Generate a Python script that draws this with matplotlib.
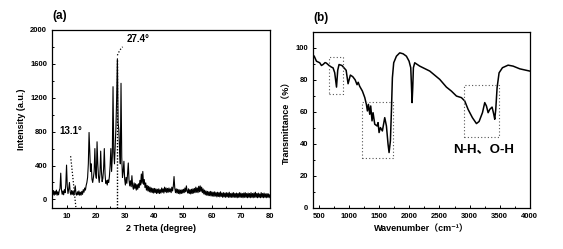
import numpy as np
import matplotlib.pyplot as plt
from matplotlib.ticker import MultipleLocator

plt.rcParams['font.family'] = ['Liberation Sans', 'Noto Sans CJK SC', 'DejaVu Sans']
plt.rcParams['font.weight'] = 'bold'

# (a) XRD pattern, 2theta grid 5..80 in 0.25 deg steps
two_theta = np.arange(5.0, 80.001, 0.25)
intensity = [
    100, 55, 105, 50, 95, 60, 110, 50, 90, 55, 105, 130, 310, 110, 60, 100, 55, 115, 80, 180,
    405, 150, 70, 125, 200, 85, 55, 105, 60, 100, 50, 95, 160, 65, 50, 90, 55, 100, 50, 85,
    50, 95, 60, 115, 85, 135, 110, 165, 200, 260, 420, 790, 560, 330, 420, 240, 200, 260, 330, 600,
    310, 250, 680, 420, 270, 200, 300, 570, 330, 210, 250, 360, 600, 300, 190, 220, 170, 230, 200, 270,
    400, 600, 330, 500, 1330, 560, 420, 620, 850, 1200, 1660, 900, 820, 600, 420, 1370, 500, 260, 330, 450,
    240, 170, 260, 190, 300, 430, 230, 160, 220, 150, 280, 160, 120, 195, 130, 185, 110, 175, 120, 185,
    140, 225, 170, 300, 190, 330, 180, 235, 140, 195, 110, 165, 100, 155, 90, 145, 85, 135, 80, 130,
    75, 130, 80, 125, 70, 120, 75, 125, 70, 115, 75, 135, 85, 125, 75, 145, 90, 135, 80, 130,
    85, 135, 90, 125, 80, 145, 100, 155, 270, 135, 80, 125, 75, 120, 70, 115, 65, 110, 70, 115,
    75, 120, 80, 135, 90, 160, 100, 75, 125, 70, 115, 65, 120, 70, 125, 75, 130, 80, 145, 85,
    135, 80, 155, 90, 160, 95, 145, 80, 125, 65, 110, 55, 100, 50, 95, 45, 90, 45, 95, 40,
    90, 40, 85, 35, 90, 40, 80, 30, 85, 35, 80, 30, 90, 35, 75, 25, 80, 30, 75, 25,
    80, 30, 75, 25, 85, 25, 70, 25, 75, 25, 80, 25, 70, 25, 75, 20, 70, 25, 80, 25,
    75, 25, 70, 20, 75, 25, 80, 25, 70, 20, 75, 25, 70, 20, 80, 25, 70, 20, 75, 25,
    85, 25, 70, 20, 75, 25, 65, 20, 80, 25, 70, 20, 75, 25, 65, 20, 70, 25, 65, 20, 55,
]

# (b) FTIR spectrum
wavenumber = [420, 456, 511, 540, 566, 600, 622, 666, 705, 733, 760, 790, 810, 832, 880, 950, 982,
              1020, 1060, 1100, 1131, 1150, 1175, 1220, 1259, 1286, 1303, 1320, 1342, 1358, 1380,
              1397, 1425, 1464, 1480, 1497, 1519, 1552, 1591, 1619, 1646, 1663, 1685, 1702, 1718,
              1740, 1785, 1840, 1896, 1951, 1995, 2023, 2034, 2045, 2056, 2067, 2089, 2172, 2339,
              2505, 2615, 2698, 2782, 2865, 2920, 2975, 3047, 3114, 3158, 3214, 3252, 3280, 3308,
              3336, 3374, 3402, 3418, 3435, 3457, 3490, 3546, 3640, 3723, 3834, 4000]
transmittance = [94.8, 91.7, 90.7, 89.0, 89.6, 90.8, 90.5, 89.0, 88.0, 87.5, 84.5, 75.5, 86.0, 89.6, 89.0, 86.0, 77.6,
                 83.0, 82.0, 80.0, 77.0, 78.5, 76.0, 73.0, 69.0, 64.7, 60.6, 64.7, 58.5, 63.7, 54.4,
                 59.5, 52.3, 51.2, 53.3, 47.1, 50.2, 48.1, 56.4, 51.2, 39.8, 34.6, 41.9, 60.6, 81.3,
                 90.7, 94.8, 96.9, 96.3, 94.8, 91.7, 87.6, 77.2, 65.8, 75.1, 87.6, 90.7, 88.6, 85.5,
                 80.3, 75.5, 73.0, 69.9, 68.9, 66.8, 61.6, 56.4, 52.7, 54.0, 59.5, 65.8, 63.7, 59.5,
                 61.6, 63.0, 58.5, 55.4, 61.6, 75.1, 84.4, 87.6, 89.2, 88.6, 86.9, 85.5]

# dotted boxes: (x0, x1, y0, y1)
boxes = [(660, 890, 71, 94), (1210, 1730, 31.5, 66), (2900, 3490, 44, 77)]

fig = plt.figure(figsize=(5.63, 2.49), dpi=100)
ax1 = fig.add_axes([0.0924, 0.165, 0.387, 0.715])
ax2 = fig.add_axes([0.556, 0.165, 0.385, 0.707])

ax1.plot(two_theta, intensity, color='black', lw=0.8)
ax1.set_xlim(5, 80)
ax1.set_ylim(-100, 2000)
ax1.xaxis.set_major_locator(MultipleLocator(10))
ax1.xaxis.set_minor_locator(MultipleLocator(5))
ax1.yaxis.set_major_locator(MultipleLocator(400))
ax1.yaxis.set_minor_locator(MultipleLocator(200))
ax1.set_xlabel('2 Theta (degree)', fontsize=6.5, fontweight='bold', labelpad=3)
ax1.set_ylabel('Intensity (a.u.)', fontsize=6.5, fontweight='bold', labelpad=3)
# peak markers
ax1.plot([27.4, 27.4], [-100, 1660], ls=(0, (1, 1.2)), color='black', lw=1.0)
ax1.plot([27.5, 28.3, 29.3], [1700, 1760, 1800], ls=(0, (1, 1.5)), color='black', lw=0.9)
ax1.plot([11.4, 12.2, 13.2], [510, 250, -90], ls=(0, (1, 1.5)), color='black', lw=0.9)
ax1.text(30.6, 1860, '27.4°', fontsize=7, fontweight='bold')
ax1.text(7.4, 770, '13.1°', fontsize=7, fontweight='bold')
ax1.text(0, 1.06, '(a)', transform=ax1.transAxes, fontsize=8.5, fontweight='bold')

ax2.plot(wavenumber, transmittance, color='black', lw=1.1)
for x0, x1, y0, y1 in boxes:
    ax2.plot([x0, x1, x1, x0, x0], [y0, y0, y1, y1, y0], ls=(0, (1, 2)), color='#555555', lw=0.8)
ax2.set_xlim(400, 4000)
ax2.set_ylim(0, 110)
ax2.xaxis.set_major_locator(MultipleLocator(500))
ax2.xaxis.set_minor_locator(MultipleLocator(250))
ax2.yaxis.set_major_locator(MultipleLocator(20))
ax2.yaxis.set_minor_locator(MultipleLocator(10))
ax2.set_xlabel('Wavenumber（cm⁻¹）', fontsize=6.5, fontweight='bold', labelpad=3)
ax2.set_ylabel('Transmittance（%）', fontsize=6.5, fontweight='bold', labelpad=3)
ax2.text(3230, 36.7, 'N-H、O-H', fontsize=9.5, fontweight='bold', ha='center', va='center')
ax2.text(0, 1.06, '(b)', transform=ax2.transAxes, fontsize=8.5, fontweight='bold')

for ax in (ax1, ax2):
    ax.tick_params(which='both', direction='in', labelsize=5.5, width=0.7, top=False, right=False)
    ax.tick_params(which='major', length=2.5)
    ax.tick_params(which='minor', length=1.5)
    for lab in ax.get_xticklabels() + ax.get_yticklabels():
        lab.set_fontweight('bold')
    for s in ax.spines.values():
        s.set_linewidth(0.9)

fig.savefig('out.png', dpi=100)
